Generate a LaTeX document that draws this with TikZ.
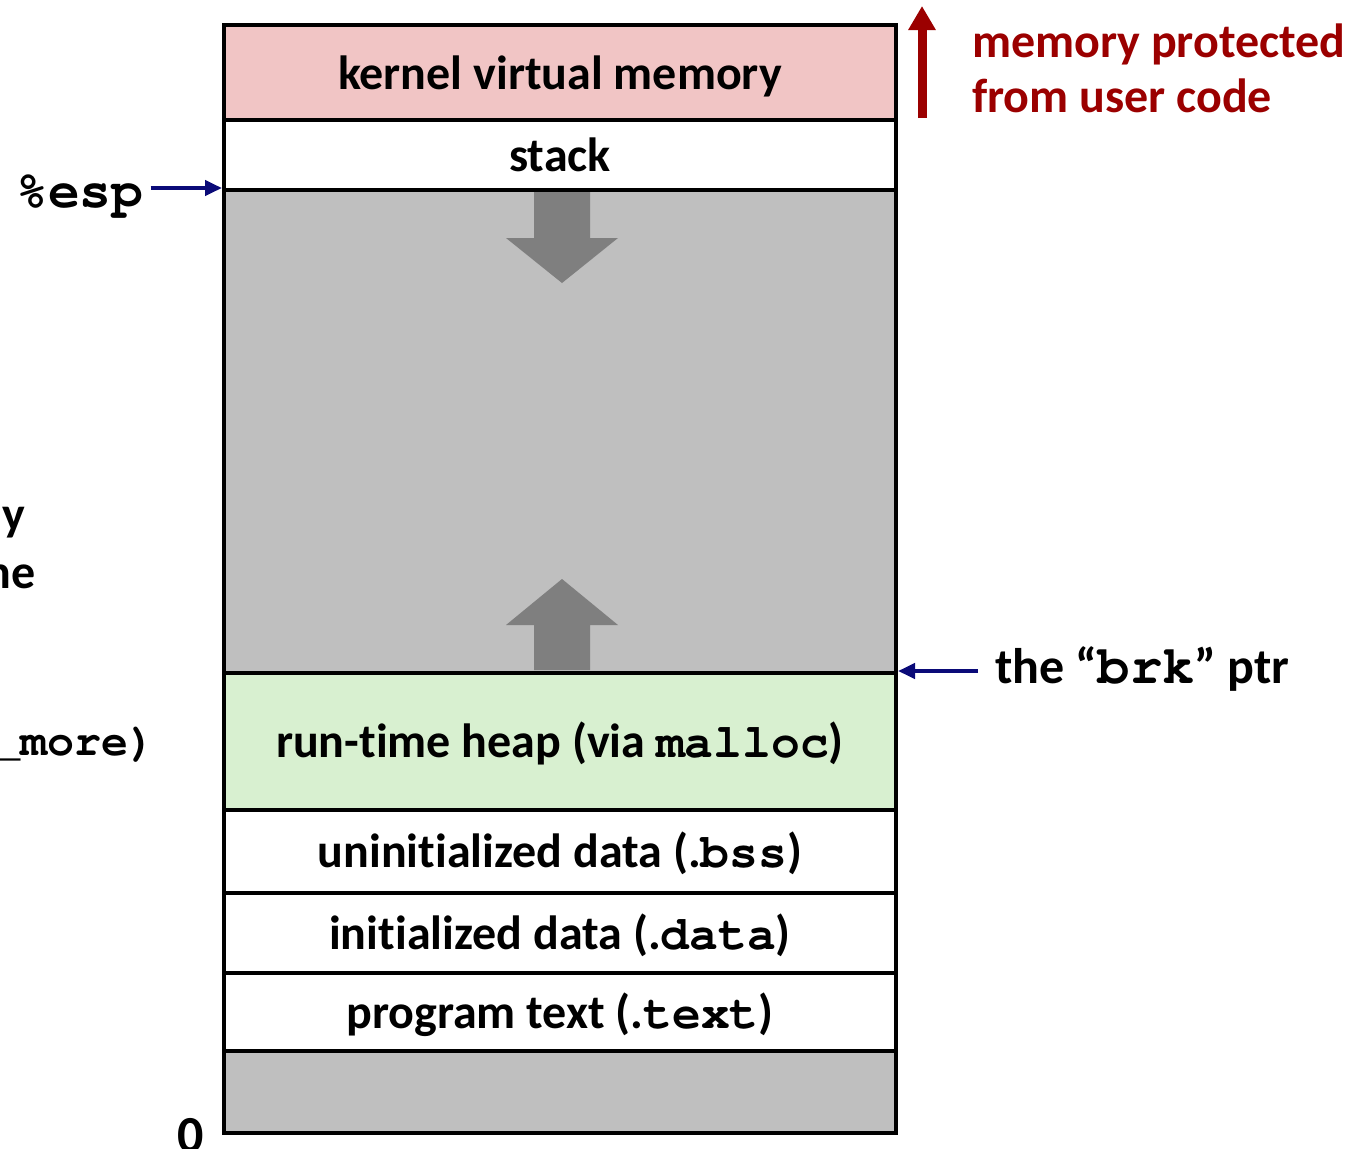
\documentclass[tikz,border=0pt]{standalone}
\usepackage{fontspec}
\setmainfont{Carlito}[Ligatures=NoCommon]
\usetikzlibrary{arrows.meta}
\definecolor{kpink}{RGB}{241,197,197}
\definecolor{hgreen}{RGB}{216,240,208}
\definecolor{regiongray}{RGB}{191,191,191}
\definecolor{arrowgray}{RGB}{127,127,127}
\definecolor{navy}{RGB}{10,10,120}
\definecolor{darkred}{RGB}{155,0,0}
\newcommand{\cd}[1]{{\fontencoding{T1}\fontfamily{pcr}\fontseries{b}\selectfont #1}}
\tikzset{
  x=1pt, y=-1pt,
  region/.style={draw=black, line width=4pt, minimum width=672pt, inner sep=0pt,
    text height=32pt, text depth=0pt, font=\fontsize{48}{52}\selectfont\bfseries},
  lbl/.style={inner sep=0pt, font=\fontsize{48}{52}\selectfont\bfseries},
  biglbl/.style={inner sep=0pt, font=\fontsize{53}{56}\selectfont\bfseries},
  ptr/.style={draw=navy, line width=4pt, -{Triangle[length=17pt,width=15pt]}},
  growarrow/.style={fill=arrowgray, draw=none},
}
\begin{document}
\begin{tikzpicture}
\useasboundingbox (0,0) rectangle (1361,1149);
% regions
\node[region, fill=kpink, minimum height=96pt] (kernel) at (560,73) {kernel virtual memory};
\node[region, fill=white, minimum height=70pt] (stack) at (560,155) {stack};
\node[region, fill=regiongray, minimum height=483pt] (gap) at (560,431.5) {};
\node[region, fill=hgreen, minimum height=137pt] (heap) at (560,741.5) {run-time heap (via \cd{malloc})};
\node[region, fill=white, minimum height=83pt] (bss) at (560,851.5) {uninitialized data (.\cd{bss})};
\node[region, fill=white, minimum height=80pt] (data) at (560,933) {initialized data (.\cd{data})};
\node[region, fill=white, minimum height=78pt] (text) at (560,1012) {program text (.\cd{text})};
\node[region, fill=regiongray, minimum height=82pt] (low) at (560,1092) {};
% growth arrows
\fill[growarrow] (534,192) -- (590,192) -- (590,238) -- (618,238) -- (562,283) -- (506,238) -- (534,238) -- cycle;
\fill[growarrow] (534,670) -- (590,670) -- (590,625) -- (618,625) -- (562,579) -- (506,625) -- (534,625) -- cycle;
% left labels
\node[biglbl, anchor=base west] (esp) at (16,207) {\cd{\%esp}};
\draw[ptr] (esp.east |- gap.north west) ++(7,0) -- (gap.north west);
\node[lbl, anchor=base east] (cuty) at (25,530) {y};
\node[lbl, anchor=base east] (cutne) at (36,588) {ne};
\node[lbl, anchor=base east, font=\fontsize{45}{50}\selectfont\bfseries] (cutmore) at (156,755) {\cd{\_more)}};
\node[lbl, anchor=base, font=\fontsize{52}{54}\selectfont\bfseries] (zero) at (191,1152) {0};
% right labels
\node[lbl, anchor=base west, font=\fontsize{50}{52}\selectfont\bfseries] (brk) at (995,683) {the “{\fontsize{54}{56}\selectfont\cd{brk}}” ptr};
\draw[ptr] (brk.west |- heap.north east) ++(-17,0) -- (heap.north east);
\coordinate (protbot) at (922,118);
\coordinate (prottop) at (922,6);
\draw[draw=darkred, line width=9pt, -{Triangle[length=24pt,width=26pt]}] (protbot) -- (prottop);
\node[lbl, anchor=base west, text=darkred] (prot1) at (972,57) {memory protected};
\node[lbl, anchor=base west, text=darkred] (prot2) at (972,112) {from user code};
\end{tikzpicture}
\end{document}
